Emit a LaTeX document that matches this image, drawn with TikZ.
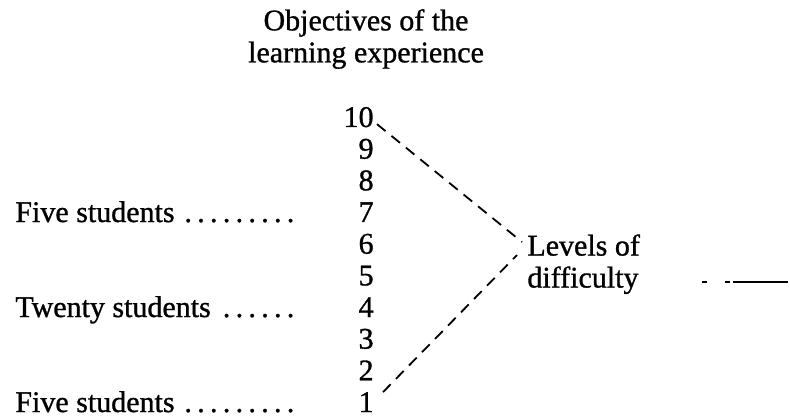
\documentclass[tikz,border=0pt]{standalone}
\usepackage{fontspec}
\setmainfont[FakeBold=1]{Liberation Serif}
\usetikzlibrary{positioning}

% label followed by leader dots, boxed to a fixed width
\newcommand{\dotlead}[2]{\makebox[#2][l]{#1\leaders\hbox to 6.4pt{\hss.\hss}\hfill}}

\begin{document}
\begin{tikzpicture}[x=0.5pt, y=-0.5pt,
    every node/.style={font=\fontsize{15}{16}\selectfont, inner sep=0pt},
    level/.style={anchor=base east},
    group/.style={anchor=base west},
    link/.style={line width=0.9pt, dash pattern=on 5.5pt off 3.8pt},
    stub/.style={line width=0.6pt, dash pattern=on 2.5pt off 9pt on 2.5pt off 1.5pt on 27.5pt}]
      \useasboundingbox (0,0) rectangle (790,419);

      % heading
      \node[align=center] (goal) at (366,39) {Objectives of the\\learning experience};

      % the ten levels
      \foreach \n in {1,...,10}
        \node[level] (n\n) at (374,{412-(\n-1)*31.67}) {\n};

      % student groups
      \node[group] (top) at (15,222) {\dotlead{Five students}{140.8pt}};
      \node[group] (mid) at (15,317) {\dotlead{Twenty students}{140.8pt}};
      \node[group] (low) at (15,412) {\dotlead{Five students}{140.8pt}};

      \node[align=left,anchor=north west] (levels) at (527,234) {Levels of\\difficulty};

      \draw[link] ([shift={(3,7)}]n10.east) -- ([shift={(-5,8)}]levels.north west);
      \draw[link] ([shift={(9,-10)}]n1.east) -- ([shift={(-10,21)}]levels.north west);

      % line running off the right edge
      \coordinate (cutA) at (702,282);
      \coordinate (cutB) at (788,282);
      \draw[stub] (cutA) -- (cutB);
    \end{tikzpicture}
\end{document}
